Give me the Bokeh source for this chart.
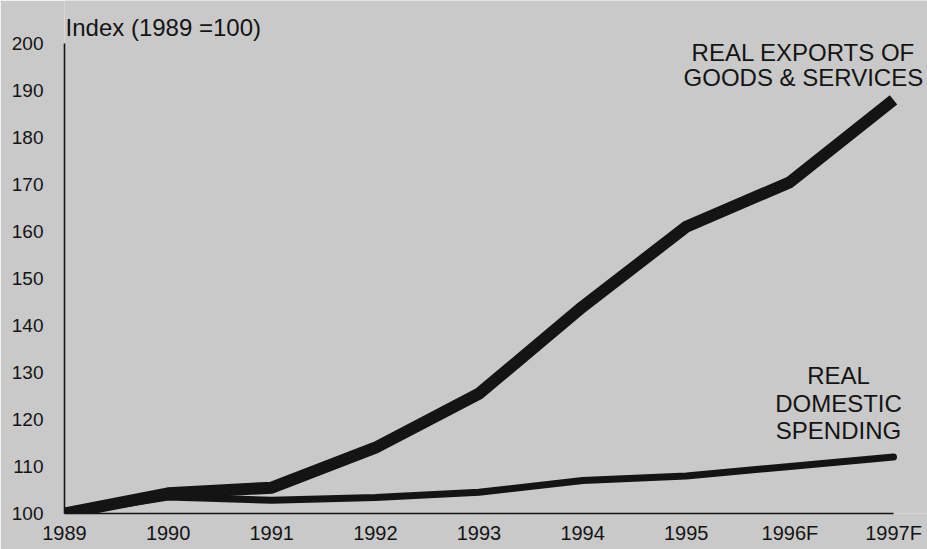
from bokeh.plotting import figure
from bokeh.models import Range1d, Label, FixedTicker
from bokeh.embed import file_html
from bokeh.resources import INLINE

# ---- data ----
years = ["1989", "1990", "1991", "1992", "1993", "1994", "1995", "1996F", "1997F"]
exports = [100, 104.3, 105.5, 114, 125.5, 144, 161, 170.5, 188]
domestic = [100, 103.5, 102.8, 103.4, 104.5, 107, 108, 110, 112]
y_ticks = [100, 110, 120, 130, 140, 150, 160, 170, 180, 190, 200]

BG = "#c9c9c9"
INK = "#141414"
FONT = "Liberation Sans"

xs = list(range(len(years)))

p = figure(width=927, height=549, output_backend="svg", toolbar_location=None,
           x_range=Range1d(0, 8.328), y_range=Range1d(100, 209.15),
           min_border_left=64, min_border_right=0, min_border_top=0, min_border_bottom=36,
           background_fill_color=BG, border_fill_color=BG, outline_line_color=None)

p.grid.visible = False

for ax in (p.xaxis[0], p.yaxis[0]):
    ax.axis_line_color = INK
    ax.axis_line_width = 1.6
    ax.major_tick_line_color = None
    ax.minor_tick_line_color = None
    ax.major_tick_out = 0
    ax.major_tick_in = 0
    ax.minor_tick_out = 0
    ax.minor_tick_in = 0
    ax.major_label_text_font = FONT
    ax.major_label_text_color = INK

p.xaxis.major_label_text_font_size = "20px"
p.yaxis.major_label_text_font_size = "19px"
p.xaxis.ticker = FixedTicker(ticks=xs)
p.xaxis.major_label_overrides = {i: y for i, y in enumerate(years)}
p.xaxis.major_label_standoff = 8
p.xaxis.bounds = (0, 8)
p.yaxis.ticker = FixedTicker(ticks=y_ticks)
p.yaxis.major_label_standoff = 21
p.yaxis.bounds = (100, 200)

p.line(xs, domestic, line_color=INK, line_width=7, line_join="round", line_cap="round")
p.line(xs, exports, line_color=INK, line_width=12, line_join="round", line_cap="butt")

def lab(text, x, y, size="24px", align="center"):
    p.add_layout(Label(x=x, y=y, text=text, text_font=FONT, text_font_size=size,
                       text_color=INK, text_align=align, text_baseline="alphabetic"))

lab("Index (1989 =100)", 0.01, 203.4, size="24px", align="left")
lab("REAL EXPORTS OF", 7.13, 198.09, size="24px")
lab("GOODS & SERVICES", 7.13, 192.77, size="24px")
lab("REAL", 7.469, 129.36)
lab("DOMESTIC", 7.469, 123.40)
lab("SPENDING", 7.469, 117.66)

open("out.html", "w").write(file_html(p, INLINE))
